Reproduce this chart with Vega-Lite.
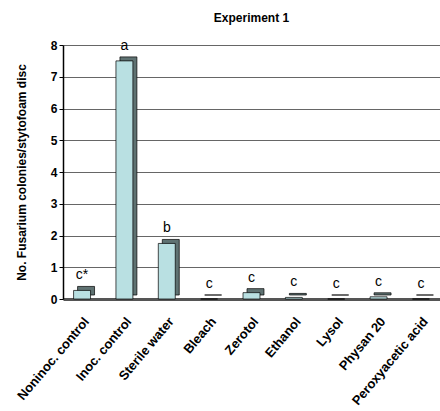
{
  "$schema": "https://vega.github.io/schema/vega-lite/v6.json",
  "width": 440,
  "height": 411,
  "autosize": {"type": "fit", "contains": "padding"},
  "padding": {"left": 15, "right": 0, "top": 12, "bottom": 3},
  "title": {"text": "Experiment 1", "font": "Liberation Sans", "fontSize": 12, "fontWeight": "bold", "offset": 14},
  "config": {
    "view": {"stroke": null},
    "font": "Liberation Sans"
  },
  "data": {
    "values": [
      {"treatment": "Noninoc. control", "value": 0.27, "label": "c*"},
      {"treatment": "Inoc. control", "value": 7.5, "label": "a"},
      {"treatment": "Sterile water", "value": 1.75, "label": "b"},
      {"treatment": "Bleach", "value": 0.0, "label": "c"},
      {"treatment": "Zerotol", "value": 0.2, "label": "c"},
      {"treatment": "Ethanol", "value": 0.05, "label": "c"},
      {"treatment": "Lysol", "value": 0.0, "label": "c"},
      {"treatment": "Physan 20", "value": 0.07, "label": "c"},
      {"treatment": "Peroxyacetic acid", "value": 0.0, "label": "c"}
    ]
  },
  "encoding": {
    "x": {
      "field": "treatment", "type": "nominal", "sort": null,
      "scale": {"paddingInner": 0.6, "paddingOuter": 0.25},
      "axis": {"title": null, "labelAngle": -50, "labelAlign": "right", "labelBaseline": "top", "labelFontWeight": "bold", "labelFontSize": 13, "labelColor": "#000", "ticks": false, "domain": true, "domainColor": "#555", "domainWidth": 3, "labelPadding": 16, "labelLimit": 200}
    },
    "y": {
      "field": "value", "type": "quantitative",
      "scale": {"domain": [0, 8]},
      "axis": {"title": "No. Fusarium colonies/stytofoam disc", "titleFontWeight": "bold", "titleFontSize": 12, "titleColor": "#000", "labelFontWeight": "bold", "labelFontSize": 12, "labelColor": "#000", "tickCount": 8, "grid": true, "gridColor": "#666", "gridWidth": 1, "domainColor": "#000", "domainWidth": 1.5, "tickColor": "#000", "tickSize": 4, "titlePadding": 22}
    }
  },
  "layer": [
    {
      "mark": {"type": "bar", "color": "#5f7272", "stroke": "#000", "strokeWidth": 0.7, "xOffset": 4, "yOffset": -4}
    },
    {
      "mark": {"type": "bar", "color": "#b9e0e2", "stroke": "#000", "strokeWidth": 0.7}
    },
    {
      "mark": {"type": "text", "dy": -15, "fontSize": 14, "color": "#000"},
      "encoding": {"text": {"field": "label"}}
    }
  ]
}
